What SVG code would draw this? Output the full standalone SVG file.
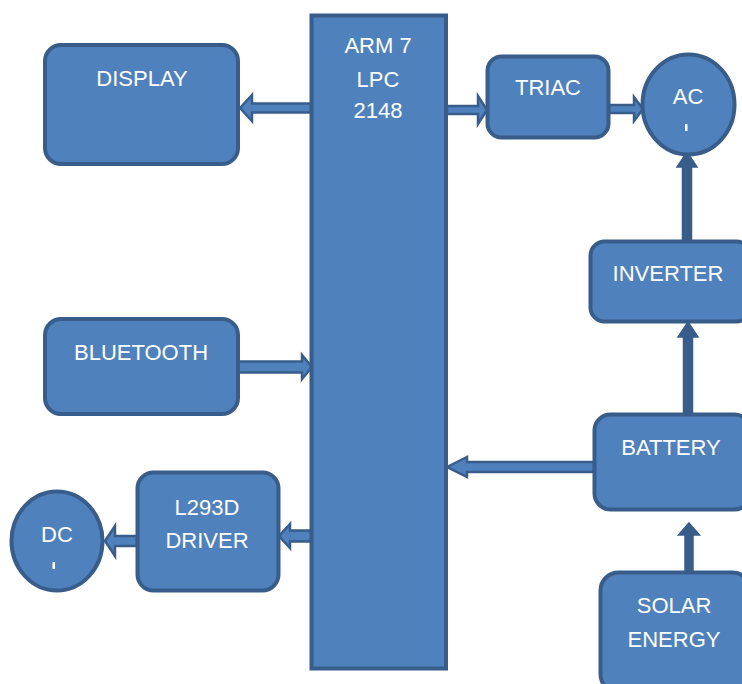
<svg xmlns="http://www.w3.org/2000/svg" width="742" height="684" viewBox="0 0 742 684">
<style>
.n{fill:#4F81BD;stroke:#385D8A;stroke-width:4}
.a{fill:#4F81BD;stroke:#385D8A;stroke-width:2.5;stroke-linejoin:miter}
.v{fill:#385D8A;stroke:#385D8A;stroke-width:1.5}
text{font-family:"Liberation Sans",Arial,sans-serif;font-size:22px;fill:#FFFFFF;text-anchor:middle}
</style>
<rect width="742" height="684" fill="#FFFFFF"/>
<g id="connectors">
<path class="a" d="M240,108 L252,95 L252,103.5 L311,103.5 L311,112.5 L252,112.5 L252,121 Z"/>
<path class="a" d="M487,110 L478,96 L478,106 L447,106 L447,114 L478,114 L478,124 Z"/>
<path class="a" d="M643,109 L634,97 L634,105 L609,105 L609,113 L634,113 L634,121 Z"/>
<path class="v" d="M687,152 L697,167 L691.5,167 L691.5,241 L682.5,241 L682.5,167 L677,167 Z"/>
<path class="v" d="M688,322 L698,337 L692.5,337 L692.5,414 L683.5,414 L683.5,337 L678,337 Z"/>
<path class="v" d="M689,523 L699.5,535 L693,535 L693,572 L685,572 L685,535 L678.5,535 Z"/>
<path class="a" d="M447,467 L467,457 L467,462 L594,462 L594,472 L467,472 L467,477 Z"/>
<path class="a" d="M312,367 L302,355 L302,361.5 L238,361.5 L238,372.5 L302,372.5 L302,379 Z"/>
<path class="a" d="M279,536 L290,524 L290,530.5 L311,530.5 L311,541.5 L290,541.5 L290,548 Z"/>
<path class="a" d="M105,541 L115,526 L115,536 L137,536 L137,546 L115,546 L115,556 Z"/>
</g>
<g id="arm">
<rect class="n" x="311.5" y="15.5" width="134.5" height="653"/>
<text x="378" y="53">ARM 7</text>
<text x="378" y="87">LPC</text>
<text x="378" y="118">2148</text>
</g>
<g id="display">
<rect class="n" x="45" y="45" width="193" height="119" rx="16"/>
<text x="142" y="86">DISPLAY</text>
</g>
<g id="triac">
<rect class="n" x="487.5" y="56.5" width="121" height="81" rx="14"/>
<text x="548" y="95">TRIAC</text>
</g>
<g id="ac">
<ellipse class="n" cx="688.5" cy="104.5" rx="46" ry="50"/>
<text x="688" y="104">AC</text>
<rect x="685" y="124" width="2.5" height="7" fill="#FFFFFF"/>
</g>
<g id="inverter">
<rect class="n" x="590.5" y="241.5" width="160" height="80" rx="14"/>
<text x="668" y="281">INVERTER</text>
</g>
<g id="bluetooth">
<rect class="n" x="45" y="319" width="193" height="95" rx="16"/>
<text x="141" y="360">BLUETOOTH</text>
</g>
<g id="battery">
<rect class="n" x="594.5" y="414.5" width="156" height="95" rx="16"/>
<text x="671" y="455">BATTERY</text>
</g>
<g id="solar">
<rect class="n" x="600.5" y="572.5" width="150" height="120" rx="18"/>
<text x="674" y="613">SOLAR</text>
<text x="674" y="647">ENERGY</text>
</g>
<g id="l293d">
<rect class="n" x="137.5" y="472.5" width="141" height="118" rx="16"/>
<text x="207" y="515">L293D</text>
<text x="207" y="548">DRIVER</text>
</g>
<g id="dc">
<ellipse class="n" cx="57" cy="541" rx="45.5" ry="49.5"/>
<text x="57" y="542">DC</text>
<rect x="52.5" y="562" width="2.5" height="7" fill="#FFFFFF"/>
</g>
</svg>
